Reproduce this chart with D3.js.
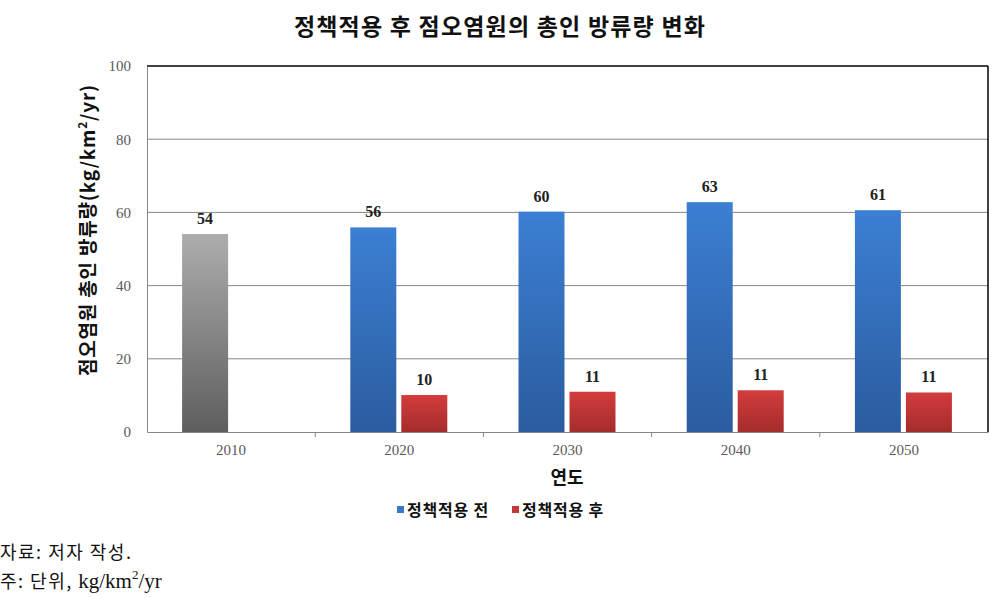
<!DOCTYPE html>
<html><head><meta charset="utf-8">
<script src="https://cdn.jsdelivr.net/npm/d3@7"></script>
<style>
body{margin:0;background:#fff;}
svg{display:block;}
</style></head>
<body>
<svg id="c" width="1001" height="598"></svg>
<script>
const categories = ["2010","2020","2030","2040","2050"];
const seriesNames = ["정책적용 전","정책적용 후"];
const beforeValues = [54.1, 55.9, 60.2, 62.8, 60.6];
const afterValues = [null, 10.1, 11.0, 11.4, 10.8];
const beforeLabels = ["54","56","60","63","61"];
const afterLabels = ["", "10","11","11","11"];
const yTicks = [0,20,40,60,80,100];

const svg = d3.select("#c");
const kr = "'Noto Sans CJK KR', sans-serif";
const serif = "'Liberation Serif','DejaVu Serif', serif";
const m = {left:147, right:988, top:66, bottom:432};

const defs = svg.append("defs");
function grad(id, c1, c2){
  const g = defs.append("linearGradient").attr("id",id).attr("x1",0).attr("y1",0).attr("x2",0).attr("y2",1);
  g.append("stop").attr("offset","0%").attr("stop-color",c1);
  g.append("stop").attr("offset","100%").attr("stop-color",c2);
}
grad("gBlue","#3b7fd3","#2b5c9f");
grad("gRed","#d33c3c","#a52c2c");
grad("gGray","#adadad","#5e5e5e");

const x = d3.scaleBand().domain(categories).range([m.left,m.right]).paddingInner(0).paddingOuter(0);
const y = d3.scaleLinear().domain([0,100]).range([m.bottom,m.top]);

// grid
svg.append("g").selectAll("line").data(yTicks.filter(t=>t>0&&t<100)).join("line")
  .attr("x1",m.left).attr("x2",m.right).attr("y1",d=>y(d)).attr("y2",d=>y(d))
  .attr("stroke","#868686").attr("stroke-width",1);
// top and right frame
svg.append("line").attr("x1",m.left).attr("x2",m.right).attr("y1",y(100)).attr("y2",y(100)).attr("stroke","#000").attr("stroke-width",1.5);
svg.append("line").attr("x1",m.right).attr("x2",m.right).attr("y1",y(100)).attr("y2",y(0)).attr("stroke","#000").attr("stroke-width",1.5);

// y axis
const yAxis = svg.append("g").attr("transform",`translate(${m.left},0)`)
  .call(d3.axisLeft(y).tickValues(yTicks).tickSize(0).tickPadding(16));
yAxis.select(".domain").attr("stroke","#868686");
yAxis.selectAll("text").attr("font-family",serif).attr("font-size",15).attr("fill","#595959");

// x axis
const xAxis = svg.append("g").attr("transform",`translate(0,${m.bottom})`)
  .call(d3.axisBottom(x).tickSize(0).tickPadding(12));
xAxis.select(".domain").attr("stroke","#868686");
xAxis.selectAll("text").attr("font-family",serif).attr("font-size",15).attr("fill","#595959");
// category boundary ticks
svg.append("g").selectAll("line").data(categories.slice(1)).join("line")
  .attr("x1",d=>x(d)).attr("x2",d=>x(d)).attr("y1",m.bottom).attr("y2",m.bottom+5).attr("stroke","#868686");

const bw = 46, gap = 5;
const off = x.bandwidth()/2 - bw - gap/2 - 0.5;
// before bars
svg.append("g").selectAll("rect").data(categories).join("rect")
  .attr("x",(d)=>x(d)+off).attr("width",bw)
  .attr("y",(d,i)=>y(beforeValues[i])).attr("height",(d,i)=>y(0)-y(beforeValues[i]))
  .attr("fill",(d,i)=>i===0?"url(#gGray)":"url(#gBlue)");
// after bars
const afterIdx = categories.map((c,i)=>i).filter(i=>afterValues[i]!=null);
svg.append("g").selectAll("rect").data(afterIdx).join("rect")
  .attr("x",i=>x(categories[i])+off+bw+gap).attr("width",bw)
  .attr("y",i=>y(afterValues[i])).attr("height",i=>y(0)-y(afterValues[i]))
  .attr("fill","url(#gRed)");

// labels
svg.append("g").selectAll("text").data(categories).join("text")
  .attr("x",d=>x(d)+off+bw/2).attr("y",(d,i)=>y(beforeValues[i])-10)
  .attr("text-anchor","middle").attr("font-family",serif).attr("font-size",16).attr("font-weight","bold").attr("fill","#222")
  .text((d,i)=>beforeLabels[i]);
svg.append("g").selectAll("text").data(afterIdx).join("text")
  .attr("x",i=>x(categories[i])+off+bw+gap+bw/2).attr("y",i=>y(afterValues[i])-10)
  .attr("text-anchor","middle").attr("font-family",serif).attr("font-size",16).attr("font-weight","bold").attr("fill","#222")
  .text(i=>afterLabels[i]);

// title
svg.append("text").attr("x",500).attr("y",35).attr("text-anchor","middle")
  .attr("font-family",kr).attr("font-size",23).attr("font-weight","bold").attr("fill","#111")
  .attr("letter-spacing",1.2)
  .text("정책적용 후 점오염원의 총인 방류량 변화");

// y title
const yt = svg.append("text").attr("transform","translate(95,230) rotate(-90)").attr("text-anchor","middle")
  .attr("font-family",kr).attr("font-size",19).attr("font-weight","bold").attr("fill","#111").attr("letter-spacing",0.8);
yt.append("tspan").text("점오염원 총인 방류량(kg/km");
yt.append("tspan").attr("font-size",12).attr("dy",-8).text("2");
yt.append("tspan").attr("dy",8).text("/yr)");

// x title
svg.append("text").attr("x",567).attr("y",484).attr("text-anchor","middle")
  .attr("font-family",kr).attr("font-size",18).attr("font-weight","bold").attr("fill","#111").text("연도");

// legend
const lg = svg.append("g");
const legendItems = [{name:seriesNames[0],color:"#3a78c8",x:397},{name:seriesNames[1],color:"#c0393b",x:512}];
legendItems.forEach(it=>{
  lg.append("rect").attr("x",it.x).attr("y",506).attr("width",7).attr("height",7).attr("fill",it.color);
  lg.append("text").attr("x",it.x+10).attr("y",516).attr("font-family",kr).attr("font-size",16).attr("font-weight","bold").attr("fill","#111").attr("letter-spacing",0.8).text(it.name);
});

// footnotes
svg.append("text").attr("x",0).attr("y",559).attr("font-family",kr).attr("font-size",18).attr("fill","#111").attr("letter-spacing",1.5).text("자료: 저자 작성.");
const fn = svg.append("text").attr("x",0).attr("y",588).attr("font-family",kr).attr("font-size",18).attr("fill","#111");
fn.append("tspan").attr("letter-spacing",1.5).text("주: 단위, ");
fn.append("tspan").attr("font-family",serif).attr("font-size",21).text("kg/km");
fn.append("tspan").attr("font-family",serif).attr("font-size",13).attr("dy",-9).text("2");
fn.append("tspan").attr("font-family",serif).attr("font-size",21).attr("dy",9).text("/yr");
</script>
</body></html>
